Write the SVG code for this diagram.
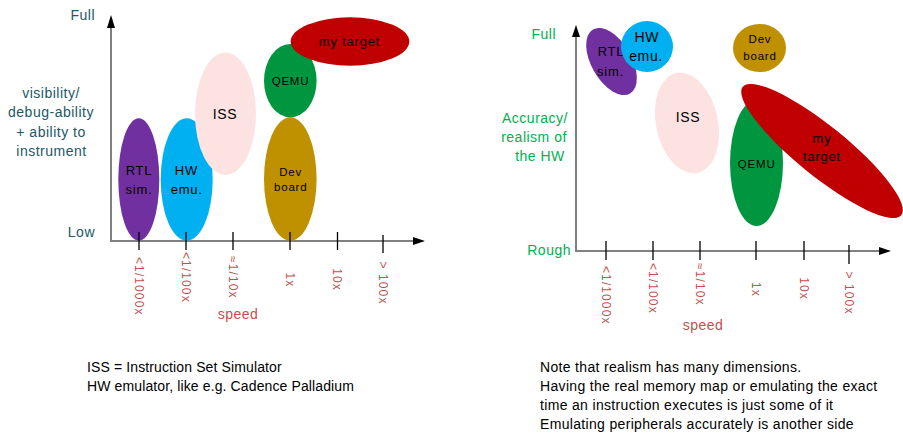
<svg xmlns="http://www.w3.org/2000/svg" width="903" height="443" viewBox="0 0 903 443">
<style>
text { font-family: "Liberation Sans", Arial, sans-serif; }
.ax { stroke: #808080; stroke-width: 2; fill: none; }
.ah { fill: #000; }
.tk { stroke: #000; stroke-width: 1.3; }
.tl { font-size: 12px; fill: #C0504D; letter-spacing: 1.1px; }
.sp { font-size: 14px; fill: #C0504D; text-anchor: middle; letter-spacing: 0.5px; }
.yt { font-size: 14px; fill: #215868; letter-spacing: 0.5px; }
.yg { font-size: 14px; fill: #00B050; letter-spacing: 0.5px; }
.nt { font-size: 14px; fill: #000; letter-spacing: 0.12px; }
.nr { font-size: 14px; fill: #000; letter-spacing: 0.33px; }
.c { text-anchor: middle; }
.e { text-anchor: end; }
.n14 { font-size: 14px; fill: #000; text-anchor: middle; letter-spacing: 0.6px; }
.n13 { font-size: 13px; fill: #000; text-anchor: middle; letter-spacing: 0.8px; }
.n11 { font-size: 11.5px; fill: #000; text-anchor: middle; letter-spacing: 0.8px; }
</style>

<!-- LEFT CHART -->
<g id="left-axes">
  <line class="ax" x1="111" y1="242" x2="111" y2="26"/>
  <polygon class="ah" points="111,15 115,28 107,28"/>
  <line class="ax" x1="110" y1="241" x2="415" y2="241"/>
  <polygon class="ah" points="425,241 413,237 413,245"/>
</g>

<g id="left-ellipses">
  <g id="l-rtl">
    <ellipse cx="138.8" cy="179.5" rx="20.5" ry="61.2" fill="#7030A0"/>
    <text class="n13" x="139" y="175">RTL</text>
    <text class="n13" x="139" y="194">sim.</text>
  </g>
  <g id="l-hw">
    <ellipse cx="186.7" cy="179.5" rx="26" ry="61.2" fill="#00B0F0"/>
    <text class="n13" x="186.5" y="175">HW</text>
    <text class="n13" x="186.7" y="194">emu.</text>
  </g>
  <g id="l-iss">
    <ellipse cx="225.5" cy="113.8" rx="30.5" ry="61.2" fill="#FDE2E2"/>
    <text class="n14" x="225" y="119">ISS</text>
  </g>
  <g id="l-qemu">
    <ellipse cx="290.3" cy="80.7" rx="26.3" ry="36.7" fill="#009640"/>
    <text class="n11" x="290.5" y="85">QEMU</text>
  </g>
  <g id="l-dev">
    <ellipse cx="290.3" cy="179" rx="26.3" ry="61.7" fill="#BF9000"/>
    <text class="n11" x="290.7" y="176">Dev</text>
    <text class="n11" x="290.7" y="191">board</text>
  </g>
  <g id="l-target">
    <ellipse cx="350" cy="41.5" rx="59.3" ry="24.2" fill="#C00000"/>
    <text class="n13" x="349.5" y="45.7">my target</text>
  </g>
</g>

<g id="left-ticks">
  <line class="tk" x1="139" y1="232" x2="139" y2="250"/>
  <line class="tk" x1="186" y1="232" x2="186" y2="250"/>
  <line class="tk" x1="233" y1="232" x2="233" y2="250"/>
  <line class="tk" x1="290" y1="232" x2="290" y2="250"/>
  <line class="tk" x1="337.5" y1="232" x2="337.5" y2="250"/>
  <line class="tk" x1="383" y1="235" x2="383" y2="253"/>
</g>

<g id="left-labels">
  <text class="tl" transform="translate(134.7,257) rotate(90)">&lt;1/1000x</text>
  <text class="tl" transform="translate(181.7,252) rotate(90)">&lt;1/100x</text>
  <text class="tl" transform="translate(228.7,256) rotate(90)">≈1/10x</text>
  <text class="tl c" transform="translate(285.7,280) rotate(90)">1x</text>
  <text class="tl c" transform="translate(333,279.5) rotate(90)">10x</text>
  <text class="tl c" transform="translate(378.7,283) rotate(90)">&gt; 100x</text>
  <text class="sp" x="238" y="319">speed</text>

  <text class="yt e" x="95" y="20">Full</text>
  <text class="yt e" x="95" y="237">Low</text>
  <text class="yt c" x="51" y="98.3">visibility/</text>
  <text class="yt c" x="51" y="117.3">debug-ability</text>
  <text class="yt c" x="51" y="136.7">+ ability to</text>
  <text class="yt c" x="51.5" y="156">instrument</text>

  <text class="nt" x="87" y="372">ISS = Instruction Set Simulator</text>
  <text class="nt" x="87" y="390.5">HW emulator, like e.g. Cadence Palladium</text>
</g>

<!-- RIGHT CHART -->
<g id="right-axes">
  <line class="ax" x1="576" y1="252" x2="576" y2="35"/>
  <polygon class="ah" points="576,25 580,37 572,37"/>
  <line class="ax" x1="575" y1="251" x2="881" y2="251"/>
  <polygon class="ah" points="891,251 879,247 879,255"/>
</g>

<g id="right-ellipses">
  <g id="r-rtl">
    <ellipse cx="611.5" cy="61.5" rx="20" ry="37" fill="#7030A0" transform="rotate(-30 611.5 61.5)"/>
    <text class="n13" x="611" y="55.7">RTL</text>
    <text class="n13" x="610.5" y="76">sim.</text>
  </g>
  <g id="r-hw">
    <ellipse cx="647" cy="46.5" rx="26" ry="25.5" fill="#00B0F0"/>
    <text class="n14" x="646.7" y="42.3">HW</text>
    <text class="n14" x="646" y="60.7">emu.</text>
  </g>
  <g id="r-dev">
    <ellipse cx="759.5" cy="48" rx="26.5" ry="24" fill="#BF9000"/>
    <text class="n11" x="760" y="43.3">Dev</text>
    <text class="n11" x="760" y="60">board</text>
  </g>
  <g id="r-iss">
    <ellipse cx="687" cy="123" rx="31" ry="51" fill="#FDE2E2" transform="rotate(-12 687 123)"/>
    <text class="n14" x="688" y="121.7">ISS</text>
  </g>
  <g id="r-qemu">
    <ellipse cx="756.5" cy="163" rx="26.5" ry="63" fill="#009640"/>
    <text class="n11" x="756.7" y="168.3">QEMU</text>
  </g>
  <g id="r-target">
    <ellipse cx="822" cy="151" rx="102" ry="25" fill="#C00000" transform="rotate(39 822 151)"/>
    <text class="n13" x="822" y="142.7">my</text>
    <text class="n13" x="822" y="161">target</text>
  </g>
</g>

<g id="right-ticks">
  <line class="tk" x1="606" y1="241" x2="606" y2="260"/>
  <line class="tk" x1="653" y1="241" x2="653" y2="260"/>
  <line class="tk" x1="700" y1="241" x2="700" y2="260"/>
  <line class="tk" x1="756" y1="241" x2="756" y2="260"/>
  <line class="tk" x1="804" y1="241" x2="804" y2="260"/>
  <line class="tk" x1="849" y1="245" x2="849" y2="264"/>
</g>

<g id="right-labels">
  <text class="tl" transform="translate(601.7,266) rotate(90)">&lt;1/1000x</text>
  <text class="tl" transform="translate(648.7,263) rotate(90)">&lt;1/100x</text>
  <text class="tl" transform="translate(695.7,263) rotate(90)">≈1/10x</text>
  <text class="tl c" transform="translate(751.7,289.5) rotate(90)">1x</text>
  <text class="tl c" transform="translate(799.7,288.5) rotate(90)">10x</text>
  <text class="tl c" transform="translate(844.7,293) rotate(90)">&gt; 100x</text>
  <text class="sp" x="703" y="330">speed</text>

  <text class="yg e" x="556" y="39">Full</text>
  <text class="yg e" x="571" y="255">Rough</text>
  <text class="yg c" x="535" y="122.7">Accuracy/</text>
  <text class="yg c" x="534" y="141.7">realism of</text>
  <text class="yg c" x="540" y="160.7">the HW</text>

  <text class="nr" x="540" y="372">Note that realism has many dimensions.</text>
  <text class="nr" x="540" y="391">Having the real memory map or emulating the exact</text>
  <text class="nr" x="540" y="410">time an instruction executes is just some of it</text>
  <text class="nr" x="540" y="429">Emulating peripherals accurately is another side</text>
</g>
</svg>
